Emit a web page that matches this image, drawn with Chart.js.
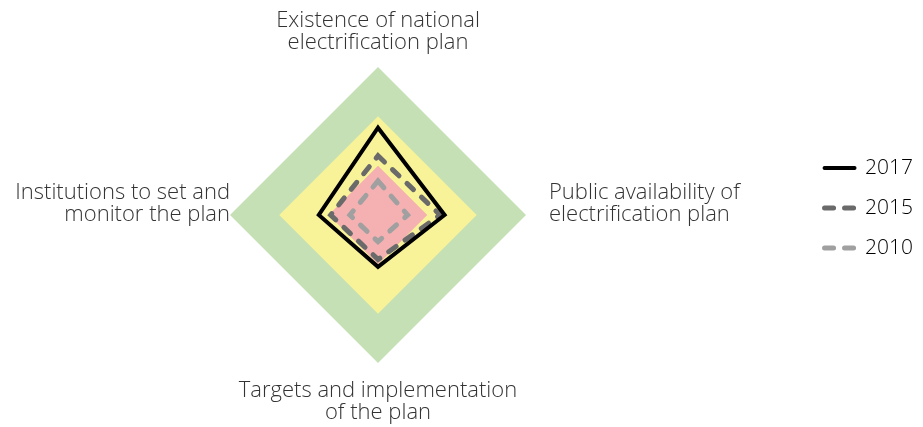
<!DOCTYPE html>
<html>
<head>
    <meta charset="utf-8">
    <title>Electrification planning scores</title>
    <script src="https://cdn.jsdelivr.net/npm/chart.js"></script>
    <style>
        html, body { margin: 0; padding: 0; background: #fff; overflow: hidden; }
        /* canvas is a bit wider than the window so the radar sits left of centre */
        #wrap { position: relative; left: -49px; width: 972px; height: 427px; }
    </style>
</head>
<body>
    <div id="wrap">
        <canvas id="radarChart"></canvas>
    </div>

    <script>
        // axes, clockwise from the top
        const categories = [
            ['Existence of national', 'electrification plan'],
            ['Public availability of', 'electrification plan', ''],
            ['Targets and implementation', 'of the plan'],
            ['Institutions to set and', 'monitor the plan', '']
        ];

        const years = ['2017', '2015', '2010'];
        const values2017 = [59, 45, 35, 40];
        const values2015 = [40, 42, 30, 32];
        const values2010 = [23, 20, 18, 19];

        // background bands (score ranges)
        const bandLow = [33.3, 33.3, 33.3, 33.3];
        const bandMid = [66.7, 66.7, 66.7, 66.7];
        const bandHigh = [100, 100, 100, 100];

        const font = "'Open Sans', sans-serif";

        const band = (data, color) => ({
            data: data,
            backgroundColor: color,
            borderWidth: 0,
            pointRadius: 0,
            fill: 'origin'
        });

        // legend block sits a little above the vertical middle
        const legendLift = {
            id: 'legendLift',
            afterLayout(chart) {
                chart.legend.bottom -= 18;
            }
        };

        const ctx = document.getElementById('radarChart').getContext('2d');
        new Chart(ctx, {
            type: 'radar',
            data: {
                labels: categories,
                datasets: [
                    {
                        label: years[0], data: values2017, borderColor: '#000',
                        borderWidth: 4, borderJoinStyle: 'miter', pointRadius: 0, fill: false
                    },
                    {
                        label: years[1], data: values2015, borderColor: '#6a6a6a',
                        borderWidth: 5, borderDash: [9, 11], borderCapStyle: 'round',
                        pointRadius: 0, fill: false
                    },
                    {
                        label: years[2], data: values2010, borderColor: '#a0a0a0',
                        borderWidth: 5, borderDash: [9, 11], borderCapStyle: 'round',
                        pointRadius: 0, fill: false
                    },
                    band(bandLow, '#f5b1b2'),
                    band(bandMid, '#f8f398'),
                    band(bandHigh, '#c6e0b5')
                ]
            },
            options: {
                responsive: true,
                maintainAspectRatio: false,
                animation: false,
                layout: { padding: { left: 0, right: 0, top: 8, bottom: 1 } },
                elements: { line: { tension: 0 } },
                scales: {
                    r: {
                        min: 0,
                        max: 100,
                        ticks: { display: false },
                        grid: { display: false },
                        angleLines: { display: false },
                        pointLabels: {
                            color: '#333',
                            font: { family: font, size: 22, weight: 300, lineHeight: 1.0 },
                            padding: (c) => [13, 23, 17, 0][c.index]
                        }
                    }
                },
                plugins: {
                    tooltip: { enabled: false },
                    legend: {
                        position: 'right',
                        labels: {
                            color: '#333',
                            font: { family: font, size: 21, weight: 300 },
                            padding: 19,
                            usePointStyle: true,
                            pointStyleWidth: 30,
                            generateLabels: (chart) => chart.data.datasets.slice(0, 3).map((ds, i) => ({
                                text: ds.label,
                                datasetIndex: i,
                                strokeStyle: ds.borderColor,
                                fillStyle: ds.borderColor,
                                lineWidth: ds.borderWidth,
                                lineDash: ds.borderDash || [],
                                lineCap: 'round',
                                pointStyle: 'line',
                                hidden: false
                            }))
                        }
                    }
                }
            },
            plugins: [legendLift]
        });
    </script>
</body>
</html>
